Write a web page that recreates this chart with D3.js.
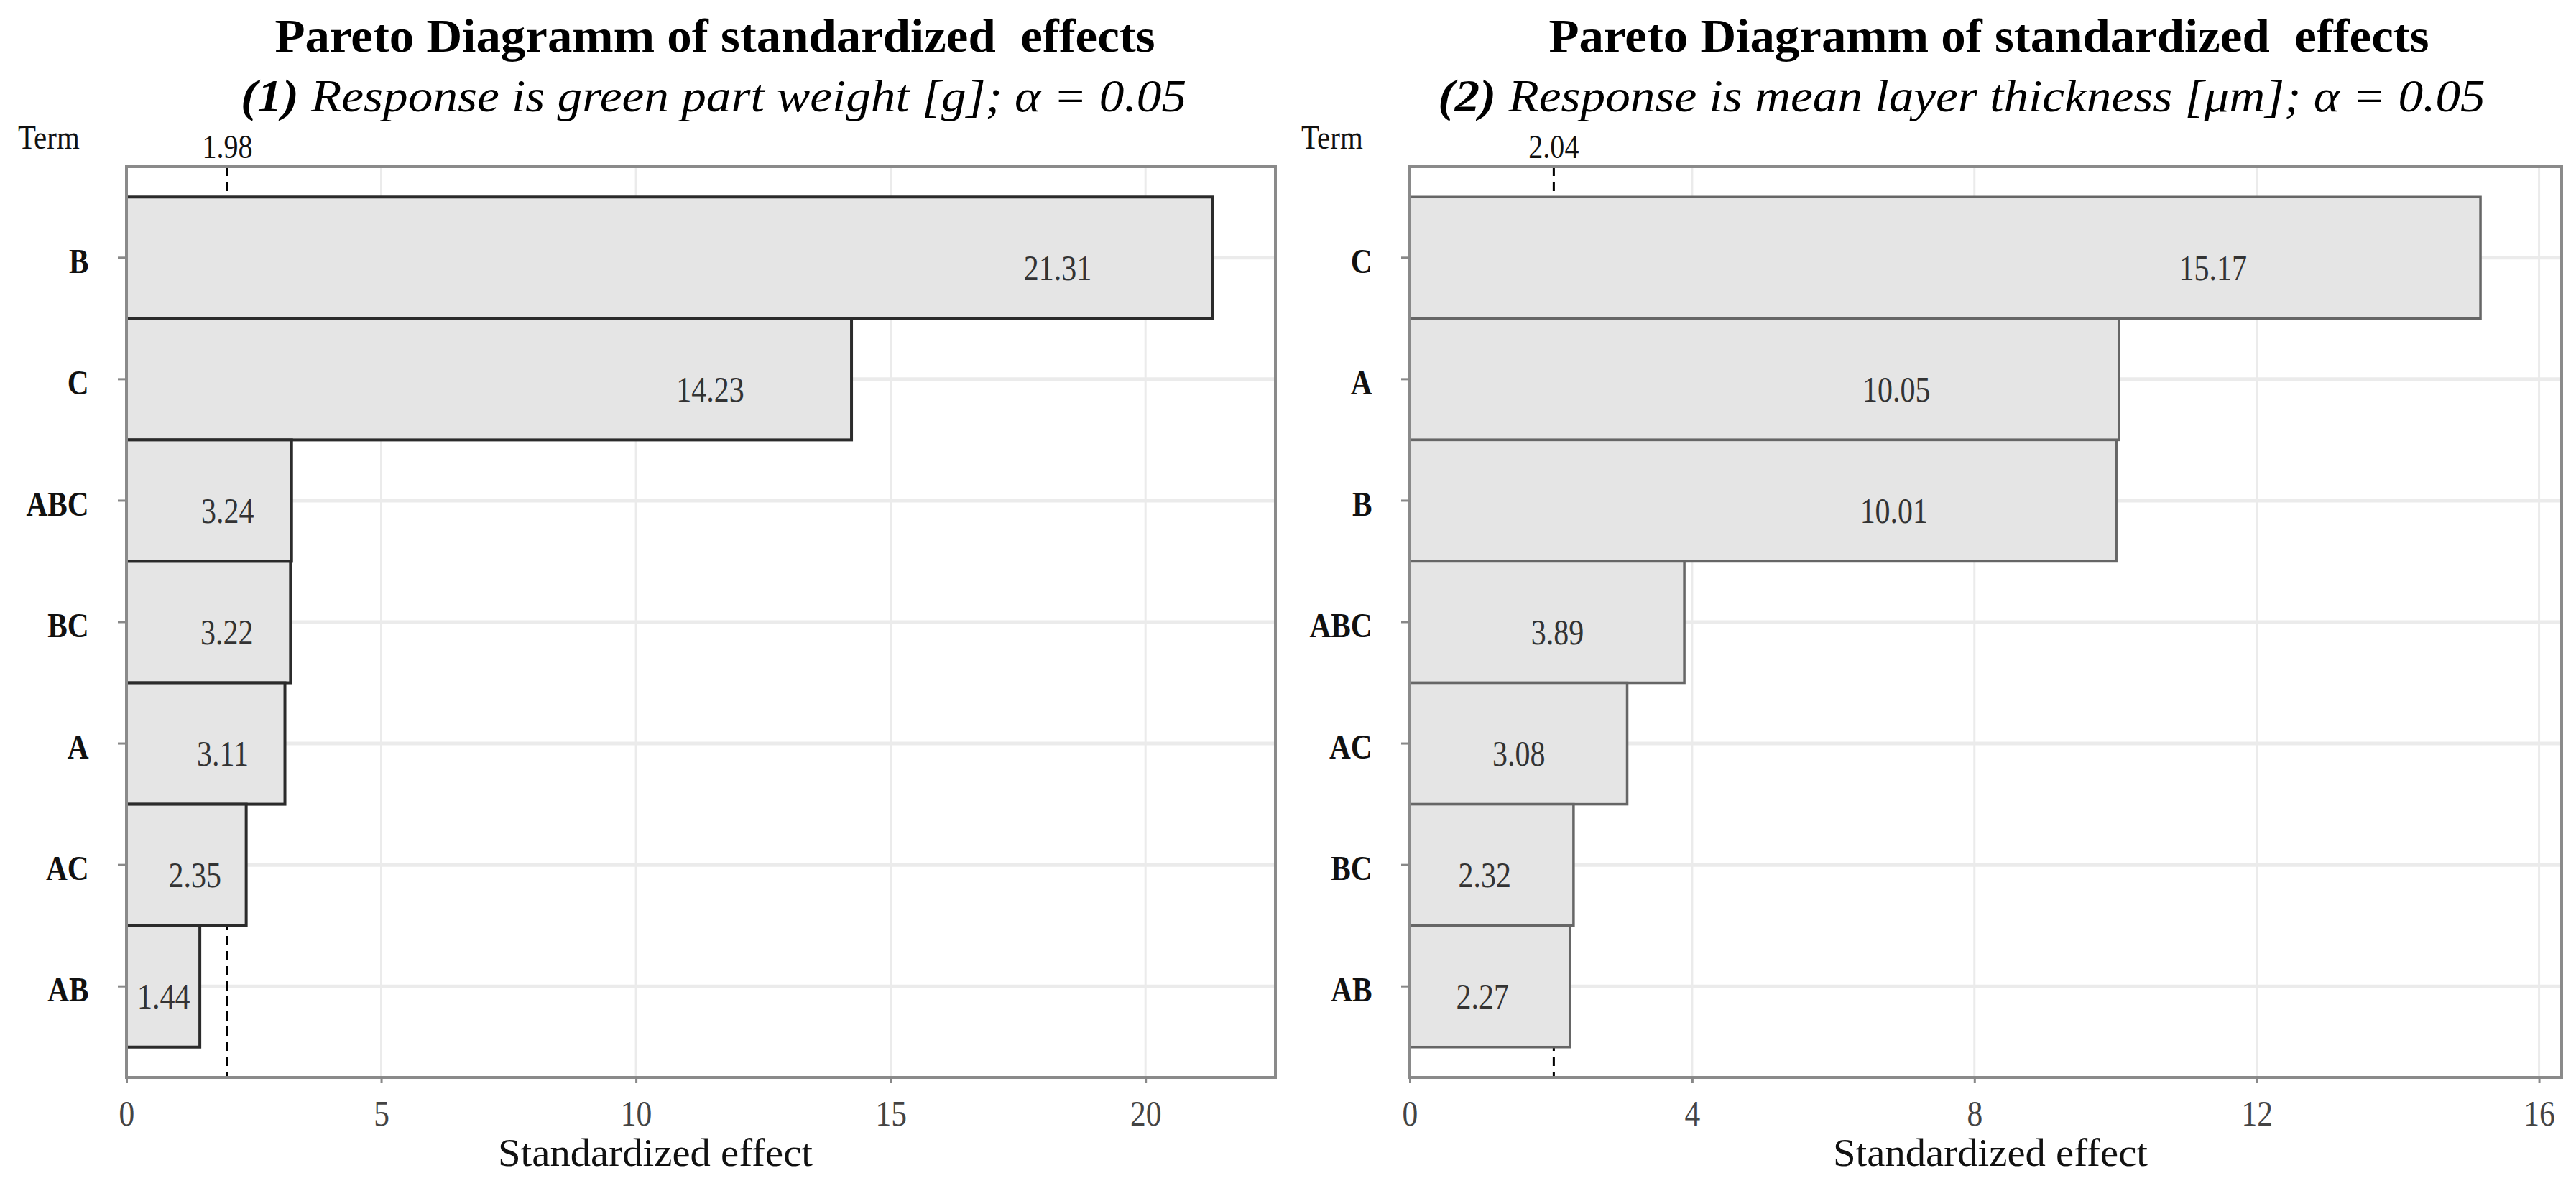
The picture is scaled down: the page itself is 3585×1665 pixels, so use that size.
<!DOCTYPE html>
<html>
<head>
<meta charset="utf-8">
<script src="https://cdn.jsdelivr.net/npm/d3@7"></script>
<style>
  body { margin: 0; background: #fff; }
  svg { display: block; }
</style>
</head>
<body>
<div id="chart"></div>
<script>
// data
var termsLeft = ["B", "C", "ABC", "BC", "A", "AC", "AB"];
var effectsLeft = [21.31, 14.23, 3.24, 3.22, 3.11, 2.35, 1.44];
var criticalLeft = 1.98;
var ticksLeft = [0, 5, 10, 15, 20];

var termsRight = ["C", "A", "B", "ABC", "AC", "BC", "AB"];
var effectsRight = [15.17, 10.05, 10.01, 3.89, 3.08, 2.32, 2.27];
var criticalRight = 2.04;
var ticksRight = [0, 4, 8, 12, 16];

var titleText = "Pareto Diagramm of standardized\u00a0 effects";
var subtitlesNum = ["(1)", "(2)"];
var subtitlesText = [" Response is green part weight [g]; \u03b1 = 0.05",
                     " Response is mean layer thickness [\u03bcm]; \u03b1 = 0.05"];
var axisTitle = "Standardized effect";

var width = 3585, height = 1665;
var serif = "'Liberation Serif', 'Times New Roman', serif";

var svg = d3.select("#chart").append("svg")
    .attr("width", width)
    .attr("height", height);

svg.append("rect")
    .attr("width", width)
    .attr("height", height)
    .attr("fill", "#fff");

// text drawn at (x, y) and squeezed/stretched horizontally
function label(g, x, y, sx) {
    return g.append("text")
        .attr("transform", "translate(" + x + "," + y + ") scale(" + sx + ",1)")
        .style("font-family", serif);
}

function panel(opt) {
    var g = svg.append("g");
    var top = 232, bottom = 1500;

    var x = d3.scaleLinear()
        .domain([0, opt.xmax])
        .range([opt.left, opt.right]);

    var y = d3.scaleBand()
        .domain(opt.terms)
        .range([top, bottom])
        .paddingInner(0)
        .paddingOuter(0.25);

    // grid
    g.selectAll(".vgrid")
        .data(opt.ticks)
        .enter().append("line")
        .attr("x1", function(d) { return x(d); })
        .attr("x2", function(d) { return x(d); })
        .attr("y1", top)
        .attr("y2", bottom)
        .style("stroke", "#ebebeb")
        .style("stroke-width", 3);

    g.selectAll(".hgrid")
        .data(opt.terms)
        .enter().append("line")
        .attr("x1", opt.left)
        .attr("x2", opt.right)
        .attr("y1", function(d) { return y(d) + y.bandwidth() / 2; })
        .attr("y2", function(d) { return y(d) + y.bandwidth() / 2; })
        .style("stroke", "#ebebeb")
        .style("stroke-width", 5);

    // critical value line (behind the bars)
    g.append("line")
        .attr("x1", x(opt.critical))
        .attr("x2", x(opt.critical))
        .attr("y1", top)
        .attr("y2", bottom)
        .style("stroke", "#000")
        .style("stroke-width", 3)
        .style("stroke-dasharray", "13,8");

    label(g, x(opt.critical), top - 12, 0.87)
        .style("font-size", "46px")
        .style("fill", "#111")
        .style("text-anchor", "middle")
        .text(opt.critical.toFixed(2));

    // bars
    g.selectAll(".bar")
        .data(opt.effects)
        .enter().append("rect")
        .attr("x", x(0))
        .attr("y", function(d, i) { return y(opt.terms[i]); })
        .attr("width", function(d) { return x(d) - x(0); })
        .attr("height", y.bandwidth())
        .style("fill", "#e5e5e5")
        .style("stroke", opt.barStroke)
        .style("stroke-width", opt.barStrokeWidth);

    // value labels sit inside the bar, further right on longer bars
    g.selectAll(".val")
        .data(opt.effects)
        .enter().append("text")
        .attr("transform", function(d, i) {
            var at = d * (opt.labelC0 + opt.labelC1 * Math.log(d));
            var cy = y(opt.terms[i]) + y.bandwidth() / 2 + 31;
            return "translate(" + x(at) + "," + cy + ") scale(0.84,1)";
        })
        .style("font-family", serif)
        .style("font-size", "50px")
        .style("fill", "#333")
        .style("text-anchor", "middle")
        .text(function(d) { return d.toFixed(2); });

    // panel border
    g.append("rect")
        .attr("x", opt.left)
        .attr("y", top)
        .attr("width", opt.right - opt.left)
        .attr("height", bottom - top)
        .style("fill", "none")
        .style("stroke", "#8a8a8a")
        .style("stroke-width", 4);

    // axes
    var xAxis = g.append("g")
        .attr("transform", "translate(0," + bottom + ")")
        .call(d3.axisBottom(x).tickValues(opt.ticks).tickSize(8).tickPadding(24));
    xAxis.select(".domain").remove();
    xAxis.selectAll("line").style("stroke", "#888").style("stroke-width", 3);
    xAxis.selectAll("text")
        .attr("transform", "scale(0.87,1)")
        .style("font-family", serif)
        .style("font-size", "50px")
        .style("fill", "#444");

    var yAxis = g.append("g")
        .attr("transform", "translate(" + opt.left + ",0)")
        .call(d3.axisLeft(y).tickSize(12).tickPadding(49));
    yAxis.select(".domain").remove();
    yAxis.selectAll("line").style("stroke", "#888").style("stroke-width", 3);
    yAxis.selectAll("text")
        .attr("dy", "0.44em")
        .attr("transform", "scale(0.86,1)")
        .style("font-family", serif)
        .style("font-size", "48px")
        .style("font-weight", "bold")
        .style("fill", "#111");

    label(g, opt.left - 151, 207, 0.87)
        .style("font-size", "47px")
        .style("fill", "#111")
        .text("Term");

    label(g, opt.axisTitleX, 1623, 1.05)
        .style("font-size", "54px")
        .style("fill", "#111")
        .style("text-anchor", "middle")
        .text(axisTitle);

    // titles
    label(g, opt.titleX, 72, 1.06)
        .style("font-size", "65px")
        .style("font-weight", "bold")
        .style("fill", "#000")
        .style("text-anchor", "middle")
        .text(titleText);

    var sub = label(g, opt.subtitleX, 155, 1.1)
        .style("font-size", "63px")
        .style("font-style", "italic")
        .style("fill", "#000")
        .style("text-anchor", "middle");
    sub.append("tspan").style("font-weight", "bold").text(opt.subNum);
    sub.append("tspan").text(opt.subText);
}

panel({
    terms: termsLeft, effects: effectsLeft, critical: criticalLeft, ticks: ticksLeft,
    left: 176, right: 1775, xmax: 22.55,
    labelC0: 0.46, labelC1: 0.13,
    barStroke: "#2b2b2b", barStrokeWidth: 4,
    titleX: 995, subtitleX: 993, axisTitleX: 912,
    subNum: subtitlesNum[0], subText: subtitlesText[0]
});

panel({
    terms: termsRight, effects: effectsRight, critical: criticalRight, ticks: ticksRight,
    left: 1962, right: 3565, xmax: 16.32,
    labelC0: 0.326, labelC1: 0.156,
    barStroke: "#666", barStrokeWidth: 3.5,
    titleX: 2768, subtitleX: 2730, axisTitleX: 2770,
    subNum: subtitlesNum[1], subText: subtitlesText[1]
});
</script>
</body>
</html>
